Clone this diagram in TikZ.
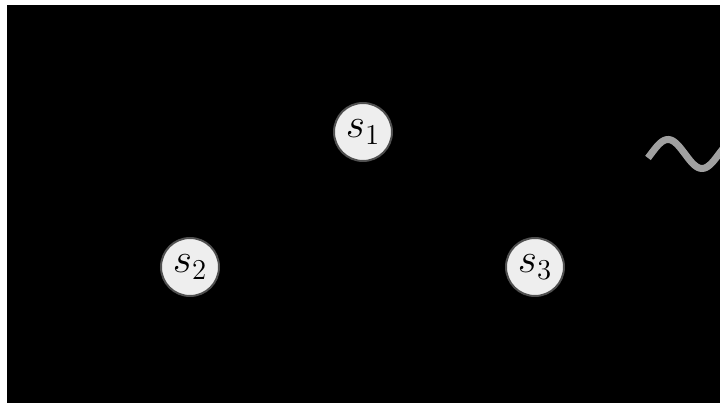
\documentclass[tikz,border=0pt]{standalone}
\usepackage{amsmath}
\usepackage{tikz}

\definecolor{statefill}{HTML}{EEEEEE}
\definecolor{statedraw}{HTML}{505050}
\definecolor{wavegray}{HTML}{A0A0A0}

\tikzset{
  state/.style={circle, fill=statefill, draw=statedraw, line width=1pt,
    minimum size=29pt, inner sep=0pt, font=\huge},
}

\begin{document}
\begin{tikzpicture}[x=0.5pt, y=-0.5pt]
  \useasboundingbox (0,0) rectangle (720,405);
  % black panel
  \fill[black] (7,5) rectangle (720,403);

  % states
  \node[state] (s1) at (363,132) {$s_1$};
  \node[state] (s2) at (190,267) {$s_2$};
  \node[state] (s3) at (535,267) {$s_3$};

  % wavy mark at the right edge, cut by the frame
  \begin{scope}
    \clip (7,5) rectangle (720,403);
    \draw[wavegray, line width=3.5pt] plot[domain=648:740, samples=60, smooth]
      (\x, {154 - 14.5*cos(5.294*(\x-668))});
  \end{scope}
\end{tikzpicture}
\end{document}
